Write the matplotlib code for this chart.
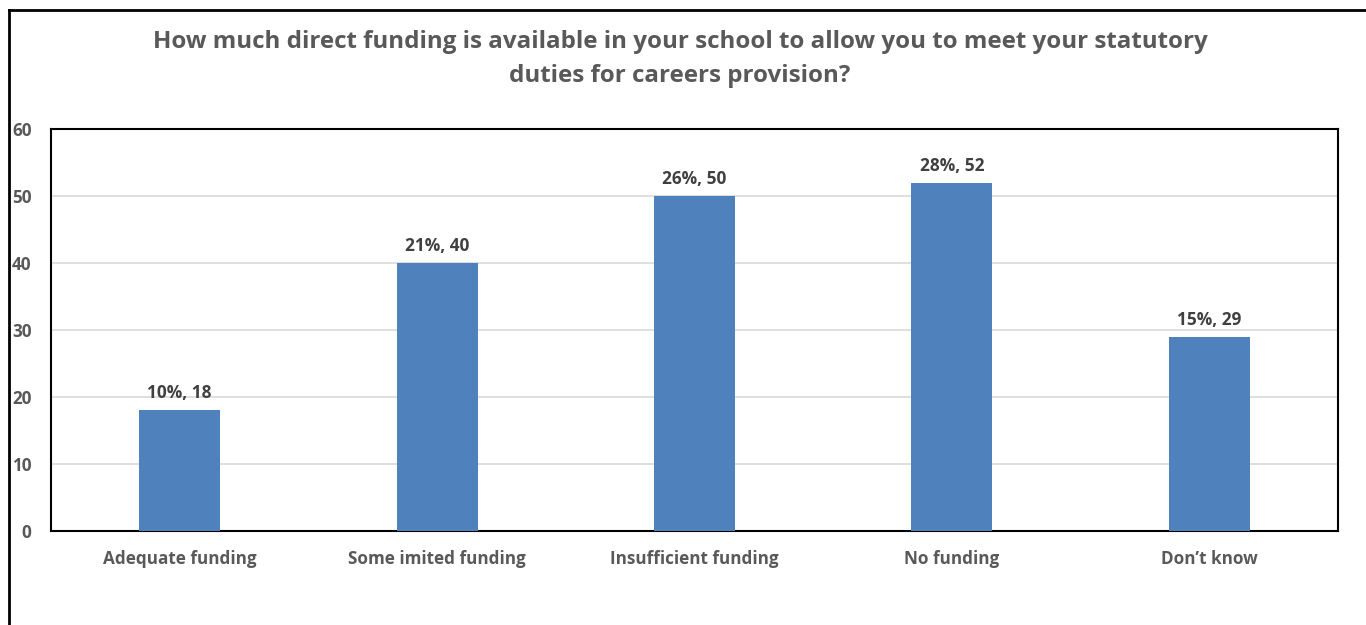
import matplotlib
matplotlib.use("Agg")
import matplotlib.pyplot as plt
from matplotlib.lines import Line2D

# Survey responses: share of respondents and count per answer.
categories = ["Adequate funding", "Some imited funding", "Insufficient funding",
              "No funding", "Don\u2019t know"]
counts = [18, 40, 50, 52, 29]
shares = [10, 21, 26, 28, 15]

BAR = "#4F81BD"
TEXT = "#595959"
GRID = "#D9D9D9"

plt.rcParams["font.family"] = ["Open Sans", "DejaVu Sans"]

W, H = 1366, 625
fig = plt.figure(figsize=(W / 100, H / 100), dpi=100)
ax = fig.add_axes([51 / W, 1 - 531 / H, (1338 - 51) / W, (531 - 129) / H])

x = range(len(categories))
bars = ax.bar(x, counts, width=0.315, color=BAR, zorder=3)
for b, n, p in zip(bars, counts, shares):
    ax.text(b.get_x() + b.get_width() / 2, n + 1.2, f"{p}%, {n}",
            ha="center", va="bottom", fontsize=12.4, fontweight="bold", color="#404040")

ax.set_xlim(-0.5, len(categories) - 0.5)
ax.set_ylim(0, 60)
ax.set_yticks(range(0, 61, 10))
ax.set_xticks(list(x))
ax.set_xticklabels(categories)
ax.grid(axis="y", color=GRID, linewidth=1.2, zorder=0)
ax.tick_params(length=0, labelsize=12.3, labelcolor=TEXT)
ax.tick_params(axis="x", pad=14)
ax.tick_params(axis="y", pad=14)
for lbl in ax.get_xticklabels() + ax.get_yticklabels():
    lbl.set_fontweight("bold")
for s in ax.spines.values():
    s.set_color("black")
    s.set_linewidth(1.5)

fig.text(680 / W, 1 - 59 / H,
         "How much direct funding is available in your school to allow you to meet your statutory\n"
         "duties for careers provision?",
         ha="center", va="center", fontsize=17.4, fontweight="bold", color=TEXT,
         linespacing=1.55)

# outer frame: left and top edges only
fig.add_artist(Line2D([9 / W, 9 / W], [0, 1 - 10 / H], color="black", linewidth=2,
                      transform=fig.transFigure))
fig.add_artist(Line2D([9 / W, 1], [1 - 10 / H, 1 - 10 / H], color="black", linewidth=2,
                      transform=fig.transFigure))

fig.savefig("out.png", dpi=100)
